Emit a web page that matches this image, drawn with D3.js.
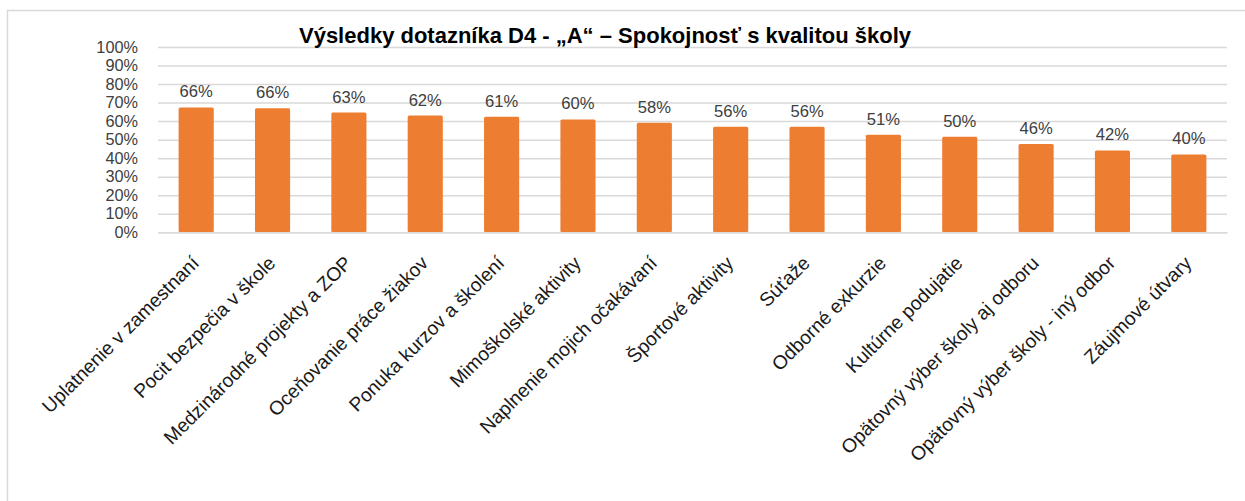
<!DOCTYPE html>
<html>
<head>
<meta charset="utf-8">
<script src="https://cdn.jsdelivr.net/npm/d3@7"></script>
<style>
  body { margin: 0; background: #fff; }
  svg { display: block; font-family: "Liberation Sans", Arial, sans-serif; }
</style>
</head>
<body>
<svg width="1245" height="501"></svg>
<script>
// chart data
var categories = [
  "Uplatnenie v zamestnaní",
  "Pocit bezpečia v škole",
  "Medzinárodné projekty a ZOP",
  "Oceňovanie práce žiakov",
  "Ponuka kurzov a školení",
  "Mimoškolské aktivity",
  "Naplnenie mojich očakávaní",
  "Športové aktivity",
  "Súťaže",
  "Odborné exkurzie",
  "Kultúrne podujatie",
  "Opätovný výber školy aj odboru",
  "Opätovný výber školy - iný odbor",
  "Záujmové útvary"
];
// bar heights as drawn
var barValues = [0.674, 0.669, 0.646, 0.630, 0.623, 0.609, 0.591, 0.570, 0.570, 0.526, 0.516, 0.477, 0.442, 0.420];
// numbers printed above the bars
var labelValues = [66, 66, 63, 62, 61, 60, 58, 56, 56, 51, 50, 46, 42, 40];
var yTicks = [0, 0.1, 0.2, 0.3, 0.4, 0.5, 0.6, 0.7, 0.8, 0.9, 1];
var title = "Výsledky dotazníka D4 - „A“ – Spokojnosť s kvalitou školy";

var svg = d3.select("svg"),
  width = +svg.attr("width"),
  height = +svg.attr("height");

var plot = { left: 158, right: 1227, top: 47, bottom: 232.3 };

// chart frame
svg.append("rect")
  .attr("x", 7.5)
  .attr("y", 10.5)
  .attr("width", width)
  .attr("height", height)
  .attr("fill", "#fff")
  .attr("stroke", "#d9d9d9")
  .attr("stroke-width", 1.5);

var x = d3.scaleBand()
  .domain(categories)
  .range([plot.left, plot.right])
  .paddingInner(0.54)
  .paddingOuter(0.27);

var y = d3.scaleLinear()
  .domain([0, 1])
  .range([plot.bottom, plot.top]);

// gridlines + y labels
var yAxis = svg.append("g")
  .attr("transform", "translate(" + plot.left + ",0)")
  .call(d3.axisLeft(y)
    .tickValues(yTicks)
    .tickFormat(d3.format(".0%"))
    .tickSize(-(plot.right - plot.left))
    .tickPadding(20));
yAxis.select(".domain").remove();
yAxis.selectAll(".tick line")
  .attr("stroke", "#d9d9d9")
  .attr("stroke-width", 1.5);
yAxis.selectAll(".tick text")
  .attr("font-size", "16.3px")
  .attr("font-family", "Liberation Sans, Arial, sans-serif")
  .attr("fill", "#404040");

// bars
svg.append("g")
  .selectAll("rect")
  .data(barValues)
  .enter().append("rect")
    .attr("x", function(d, i) { return x(categories[i]); })
    .attr("y", function(d) { return y(d); })
    .attr("width", x.bandwidth())
    .attr("height", function(d) { return y(0) - y(d); })
    .attr("rx", 1.5)
    .attr("fill", "#ed7d31");

// data labels
svg.append("g")
  .selectAll("text")
  .data(labelValues)
  .enter().append("text")
    .attr("x", function(d, i) { return x(categories[i]) + x.bandwidth() / 2; })
    .attr("y", function(d, i) { return y(barValues[i]) - 10; })
    .attr("text-anchor", "middle")
    .attr("font-size", "16.6px")
    .attr("fill", "#404040")
    .text(function(d) { return d + "%"; });

// category axis
var xAxis = svg.append("g")
  .attr("transform", "translate(0," + plot.bottom + ")")
  .call(d3.axisBottom(x).tickSize(0).tickPadding(0));
xAxis.select(".domain")
  .attr("stroke", "#d9d9d9")
  .attr("stroke-width", 1.5);
xAxis.selectAll(".tick text")
  .attr("font-size", "19.3px")
  .attr("font-family", "Liberation Sans, Arial, sans-serif")
  .attr("fill", "#1a1a1a")
  .attr("text-anchor", "end")
  .attr("dy", 0)
  .attr("y", 0)
  .attr("transform", "translate(4,32) rotate(-45)");

// title
svg.append("text")
  .attr("x", 605)
  .attr("y", 43)
  .attr("text-anchor", "middle")
  .attr("font-size", "22px")
  .attr("font-weight", "bold")
  .attr("fill", "#000")
  .text(title);
</script>
</body>
</html>
